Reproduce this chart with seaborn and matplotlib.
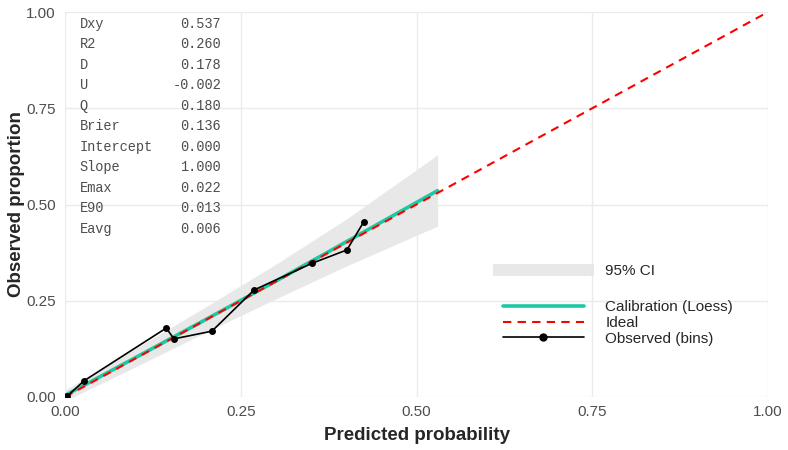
import numpy as np
import pandas as pd
import seaborn as sns
import matplotlib
matplotlib.use("Agg")
import matplotlib.pyplot as plt
from matplotlib.patches import Patch
from matplotlib.lines import Line2D

# ---- data ----
obs_x = [0.003, 0.027, 0.144, 0.155, 0.209, 0.269, 0.351, 0.401, 0.425]
obs_y = [0.002, 0.042, 0.179, 0.151, 0.171, 0.278, 0.347, 0.382, 0.455]

loess_x = [0.0, 0.1, 0.2, 0.3, 0.4, 0.53]
loess_y = [0.004, 0.102, 0.201, 0.301, 0.403, 0.536]
ci_lower = [-0.010, 0.078, 0.168, 0.255, 0.340, 0.444]
ci_upper = [0.018, 0.126, 0.234, 0.345, 0.462, 0.629]

ideal_x = [0.0, 1.0]
ideal_y = [0.0, 1.0]

stat_names = ["Dxy", "R2", "D", "U", "Q", "Brier", "Intercept", "Slope", "Emax", "E90", "Eavg"]
stat_values = ["0.537", "0.260", "0.178", "-0.002", "0.180", "0.136", "0.000", "1.000", "0.022", "0.013", "0.006"]

ticks = [0.0, 0.25, 0.5, 0.75, 1.0]
tick_labels = ["0.00", "0.25", "0.50", "0.75", "1.00"]

TEAL = "#1DC9A4"
RED = "#FF0000"
BAND = "#E8E8E8"

sns.set_style("white")
plt.rcParams["font.family"] = ["Liberation Sans", "DejaVu Sans"]

fig = plt.figure(figsize=(7.88, 4.5), dpi=100)
ax = fig.add_axes([65 / 788, 53 / 450, 703 / 788, 385 / 450])

obs = pd.DataFrame({"x": obs_x, "y": obs_y})
loess = pd.DataFrame({"x": loess_x, "y": loess_y})
ideal = pd.DataFrame({"x": ideal_x, "y": ideal_y})

ax.fill_between(loess_x, ci_lower, ci_upper, color=BAND, lw=0, zorder=1)
sns.lineplot(data=loess, x="x", y="y", ax=ax, color=TEAL, lw=2.6, zorder=2)
sns.lineplot(data=ideal, x="x", y="y", ax=ax, color=RED, lw=1.5, zorder=3,
             dashes=False, linestyle=(0, (4, 3)))
sns.lineplot(data=obs, x="x", y="y", ax=ax, color="black", lw=1.2, zorder=4,
             marker="o", markersize=5, markeredgewidth=0, sort=False)

ax.set_xlim(0, 1)
ax.set_ylim(0, 1)
ax.set_xticks(ticks)
ax.set_xticklabels(tick_labels)
ax.set_yticks(ticks)
ax.set_yticklabels(tick_labels)
ax.tick_params(length=0, labelsize=11, labelcolor="#4D4D4D")
ax.tick_params(axis="x", pad=5.5)
ax.tick_params(axis="y", pad=6.5)
ax.grid(True, color="#EBEBEB", lw=1.0, zorder=0)
ax.set_axisbelow(True)
for s in ax.spines.values():
    s.set_visible(False)

ax.set_xlabel("Predicted probability", fontsize=13.5, fontweight="bold", labelpad=6)
ax.set_ylabel("Observed proportion", fontsize=13.5, fontweight="bold", labelpad=1)

# stats text block
y0 = 0.969
dy = 0.0532
for i, (n, v) in enumerate(zip(stat_names, stat_values)):
    ax.text(0.021, y0 - i * dy, n, family="Liberation Mono", fontsize=9.8,
            color="#4D4D4D", ha="left", va="center")
    ax.text(0.222, y0 - i * dy, v, family="Liberation Mono", fontsize=9.8,
            color="#4D4D4D", ha="right", va="center")

# legends
leg1 = ax.legend(handles=[Patch(facecolor=BAND, edgecolor="none", label="95% CI")],
                 loc="center left", bbox_to_anchor=(428 / 703, (397 - 271) / 385),
                 frameon=False, fontsize=11, handlelength=6.6, handleheight=0.9,
                 handletextpad=0.7, borderpad=0, borderaxespad=0)
ax.add_artist(leg1)
handles = [
    Line2D([], [], color=TEAL, lw=2.6, label="Calibration (Loess)"),
    Line2D([], [], color=RED, lw=1.5, linestyle=(0, (4, 3)), label="Ideal"),
    Line2D([], [], color="black", lw=1.2, marker="o", markersize=5, label="Observed (bins)"),
]
ax.legend(handles=handles, loc="center left",
          bbox_to_anchor=(438 / 703, (397 - 323) / 385),
          frameon=False, fontsize=11, handlelength=5.3, labelspacing=0.1,
          handletextpad=1.4, borderpad=0, borderaxespad=0)

fig.savefig("out.png", dpi=100)
